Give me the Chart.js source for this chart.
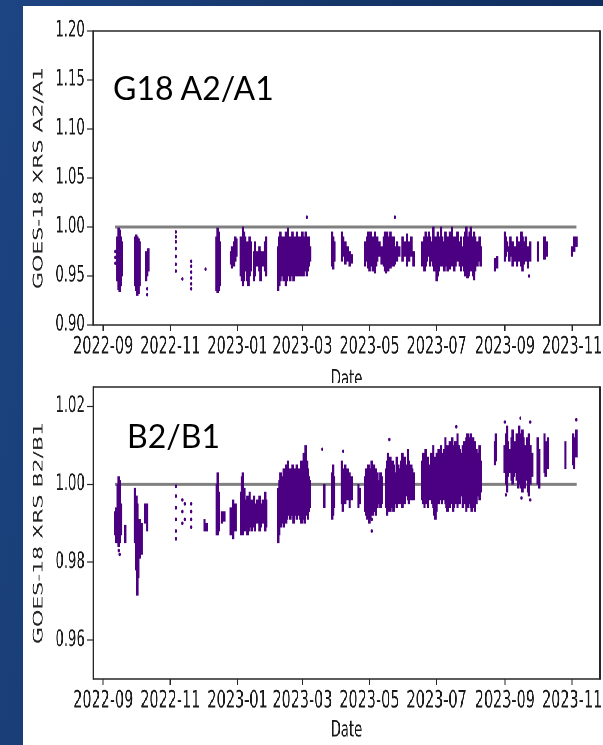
<!DOCTYPE html>
<html><head><meta charset="utf-8">
<script src="https://cdn.jsdelivr.net/npm/chart.js@4.4.0/dist/chart.umd.min.js"></script>
<style>
html,body{margin:0;padding:0;width:603px;height:745px;overflow:hidden;}
body{position:relative;background:linear-gradient(100deg,#1d4583 0%,#153669 45%,#0e2a5b 100%);}
#panel{position:absolute;left:23px;top:6px;width:580px;height:739px;background:#fff;}
.cb{position:absolute;left:23px;width:967px;transform:scaleX(0.59979);transform-origin:0 0;}
#box1{top:6px;height:387px;}
#box2{top:383px;height:362px;background:#fff;}
.note{position:absolute;font-family:Lato,'Open Sans',sans-serif;font-size:32px;line-height:32px;color:#000;white-space:nowrap;}
</style></head>
<body>
<div id="panel"></div>
<div class="cb" id="box1"><canvas id="c1"></canvas></div>
<div class="cb" id="box2"><canvas id="c2"></canvas></div>
<div class="note" style="left:113px;top:72px;">G18 A2/A1</div>
<div class="note" style="left:127px;top:420px;">B2/B1</div>
<script>
// ---------- data ----------
const xTickLabels = ['2022-09','2022-11','2023-01','2023-03','2023-05','2023-07','2023-09','2023-11'];
const aYTicks = [0.90,0.95,1.00,1.05,1.10,1.15,1.20];
const bYTicks = [0.96,0.98,1.00,1.02];
const refDates = ['2022-09-12','2023-11-05'];
const refValue = 1.0;

// G18 A2/A1 : dense daily strips (date, low, high)
const aStripDates = [
 '2022-09-14','2022-09-15','2022-09-16','2022-09-17','2022-09-18','2022-09-30','2022-10-01','2022-10-02','2022-10-03','2022-10-04','2022-10-10','2022-10-11','2022-10-12',
 '2022-12-13','2022-12-14','2022-12-15','2022-12-16','2022-12-26','2022-12-27','2022-12-29','2022-12-30','2022-12-31',
 '2023-01-04','2023-01-05','2023-01-06','2023-01-07','2023-01-08','2023-01-10','2023-01-11','2023-01-12','2023-01-13','2023-01-16','2023-01-17','2023-01-19','2023-01-21','2023-01-22','2023-01-24','2023-01-26','2023-01-27',
 '2023-02-07','2023-02-08','2023-02-09','2023-02-10','2023-02-11','2023-02-12','2023-02-13','2023-02-14','2023-02-15','2023-02-16','2023-02-17','2023-02-18','2023-02-19','2023-02-20','2023-02-21','2023-02-22','2023-02-23','2023-02-24','2023-02-25','2023-02-26','2023-02-27','2023-02-28',
 '2023-03-01','2023-03-02','2023-03-03','2023-03-04','2023-03-05','2023-03-06','2023-03-07','2023-03-08','2023-03-28','2023-03-29','2023-03-30','2023-04-06','2023-04-07','2023-04-09','2023-04-11','2023-04-13','2023-04-15',
 '2023-04-27','2023-04-29','2023-04-30','2023-05-01','2023-05-02','2023-05-03','2023-05-04','2023-05-05','2023-05-06','2023-05-07','2023-05-08','2023-05-10','2023-05-12','2023-05-14','2023-05-15','2023-05-16','2023-05-17','2023-05-18','2023-05-19','2023-05-20','2023-05-21','2023-05-22','2023-05-23','2023-05-24','2023-05-26','2023-05-28',
 '2023-05-31','2023-06-02','2023-06-04','2023-06-06','2023-06-08','2023-06-10',
 '2023-06-18','2023-06-20','2023-06-21','2023-06-22','2023-06-24','2023-06-25','2023-06-27','2023-06-28','2023-06-29','2023-07-01','2023-07-02','2023-07-03','2023-07-04','2023-07-05','2023-07-06','2023-07-08','2023-07-09','2023-07-10','2023-07-11','2023-07-12','2023-07-13',
 '2023-07-15','2023-07-16','2023-07-17','2023-07-18','2023-07-20','2023-07-22','2023-07-23','2023-07-24','2023-07-26','2023-07-27','2023-07-28','2023-07-29','2023-07-30','2023-07-31','2023-08-01','2023-08-02','2023-08-03','2023-08-04','2023-08-05','2023-08-07','2023-08-09','2023-08-10','2023-08-23','2023-08-25',
 '2023-09-01','2023-09-02','2023-09-03','2023-09-05','2023-09-06','2023-09-08','2023-09-10','2023-09-12','2023-09-14','2023-09-16','2023-09-17','2023-09-18','2023-09-20','2023-09-22','2023-09-24','2023-10-01','2023-10-07','2023-10-09','2023-11-01','2023-11-03','2023-11-05'
];
const aStripLow = [
 0.945,0.936,0.934,0.940,0.950,0.940,0.935,0.930,0.932,0.940,0.945,0.950,0.955,
 0.935,0.933,0.935,0.940,0.962,0.958,0.960,0.965,0.970,
 0.950,0.945,0.940,0.945,0.955,0.945,0.940,0.950,0.955,0.945,0.950,0.960,0.955,0.945,0.960,0.955,0.950,
 0.935,0.940,0.945,0.950,0.955,0.945,0.950,0.940,0.945,0.950,0.955,0.945,0.950,0.955,0.945,0.950,0.955,0.950,0.955,0.950,0.955,0.950,
 0.955,0.950,0.955,0.960,0.950,0.955,0.960,0.965,0.960,0.957,0.965,0.965,0.970,0.962,0.965,0.960,0.963,
 0.960,0.965,0.958,0.955,0.960,0.965,0.955,0.960,0.953,0.960,0.965,0.970,0.962,0.960,0.955,0.953,0.960,0.955,0.960,0.958,0.960,0.965,0.960,0.962,0.965,0.970,
 0.965,0.970,0.960,0.965,0.970,0.960,
 0.960,0.955,0.960,0.965,0.970,0.960,0.965,0.960,0.955,0.945,0.950,0.955,0.960,0.965,0.960,0.955,0.960,0.965,0.955,0.960,0.957,
 0.960,0.965,0.955,0.960,0.965,0.960,0.955,0.960,0.955,0.950,0.955,0.948,0.950,0.955,0.960,0.955,0.950,0.946,0.955,0.960,0.965,0.960,0.955,0.958,
 0.965,0.970,0.975,0.965,0.970,0.960,0.965,0.960,0.965,0.960,0.955,0.962,0.965,0.958,0.965,0.965,0.967,0.970,0.970,0.975,0.980
];
const aStripHigh = [
 0.990,0.999,0.997,0.990,0.985,0.990,0.992,0.990,0.988,0.985,0.975,0.972,0.978,
 0.990,0.999,0.995,0.985,0.975,0.980,0.985,0.990,0.988,
 0.990,0.985,1.000,0.995,0.990,0.985,0.980,0.990,0.985,0.975,0.985,0.975,0.980,0.975,0.975,0.985,0.990,
 0.980,0.990,0.995,0.990,0.985,0.990,0.985,0.995,0.990,0.999,0.990,0.985,0.990,0.995,0.990,0.985,0.990,0.995,0.985,0.990,0.980,0.990,
 0.995,0.990,0.985,0.995,0.990,0.985,0.990,0.980,0.995,0.990,0.985,0.995,0.990,0.985,0.980,0.975,0.972,
 0.985,0.990,0.995,0.990,0.995,0.990,0.985,0.990,0.995,0.985,0.990,0.985,0.980,0.990,0.995,0.990,0.995,0.990,0.985,0.995,0.990,0.985,0.990,0.980,0.985,0.980,
 0.990,0.985,0.993,0.985,0.990,0.975,
 0.985,0.990,0.995,0.990,0.995,0.990,0.985,1.000,0.990,0.990,0.995,0.985,0.990,1.000,0.990,0.985,0.995,0.990,0.985,0.990,0.995,
 1.000,0.990,0.985,0.990,0.995,0.985,0.990,0.980,0.990,0.995,1.000,0.990,0.985,0.995,1.000,0.990,0.985,0.995,0.990,0.985,0.990,0.980,0.968,0.970,
 0.995,0.990,0.985,0.980,0.990,0.985,0.980,0.990,0.985,0.995,0.990,0.985,0.990,0.980,0.985,0.985,0.990,0.985,0.980,0.990,0.990
];
// G18 A2/A1 : isolated points
const aDotDates = ['2022-09-12','2022-09-12','2022-09-12','2022-10-11','2022-10-11',
 '2022-11-06','2022-11-06','2022-11-06','2022-11-06','2022-11-06','2022-11-06','2022-11-06',
 '2022-11-12','2022-11-20','2022-11-20','2022-11-20','2022-11-20','2022-11-20','2022-11-20',
 '2022-12-03','2023-03-05','2023-05-24','2023-09-23'];
const aDotVals = [0.975,0.969,0.963,0.931,0.937,
 0.995,0.990,0.985,0.978,0.970,0.962,0.955,
 0.947,0.965,0.960,0.954,0.948,0.942,0.937,
 0.957,1.010,1.010,0.950];

// B2/B1 : dense daily strips
const bStripDates = [
 '2022-09-12','2022-09-13','2022-09-14','2022-09-15','2022-09-16','2022-09-17','2022-09-21','2022-09-30','2022-10-01','2022-10-02','2022-10-03','2022-10-04','2022-10-05','2022-10-06','2022-10-09','2022-10-11',
 '2022-12-02','2022-12-04','2022-12-13','2022-12-14','2022-12-15','2022-12-18','2022-12-20','2022-12-26','2022-12-28','2022-12-30',
 '2023-01-04','2023-01-05','2023-01-06','2023-01-07','2023-01-08','2023-01-10','2023-01-11','2023-01-12','2023-01-14','2023-01-16','2023-01-17','2023-01-19','2023-01-21','2023-01-22','2023-01-24','2023-01-26','2023-01-27',
 '2023-02-07','2023-02-08','2023-02-09','2023-02-10','2023-02-11','2023-02-12','2023-02-13','2023-02-14','2023-02-15','2023-02-16','2023-02-17','2023-02-18','2023-02-19','2023-02-20','2023-02-21','2023-02-22','2023-02-23','2023-02-24','2023-02-25','2023-02-26','2023-02-27','2023-02-28',
 '2023-03-01','2023-03-02','2023-03-03','2023-03-04','2023-03-05','2023-03-06','2023-03-07','2023-03-08','2023-03-21','2023-03-28','2023-03-29','2023-03-30','2023-04-06','2023-04-07','2023-04-09','2023-04-11','2023-04-13','2023-04-15','2023-04-21','2023-04-22',
 '2023-04-27','2023-04-28','2023-04-29','2023-04-30','2023-05-01','2023-05-02','2023-05-03','2023-05-04','2023-05-05','2023-05-06','2023-05-07','2023-05-08','2023-05-09','2023-05-11','2023-05-12',
 '2023-05-16','2023-05-17','2023-05-18','2023-05-19','2023-05-20','2023-05-21','2023-05-22','2023-05-23','2023-05-24','2023-05-26','2023-05-27','2023-05-28','2023-05-30','2023-05-31','2023-06-01','2023-06-02','2023-06-04','2023-06-05','2023-06-06','2023-06-08','2023-06-09','2023-06-10',
 '2023-06-18','2023-06-19','2023-06-20','2023-06-21','2023-06-22','2023-06-23','2023-06-25','2023-06-26','2023-06-27','2023-06-28','2023-06-29','2023-06-30','2023-07-01','2023-07-02','2023-07-03','2023-07-04','2023-07-05','2023-07-06','2023-07-07','2023-07-08','2023-07-09',
 '2023-07-10','2023-07-11','2023-07-12','2023-07-13','2023-07-14','2023-07-15','2023-07-16','2023-07-17','2023-07-18','2023-07-19','2023-07-20','2023-07-21','2023-07-22','2023-07-23','2023-07-25','2023-07-26','2023-07-27','2023-07-28','2023-07-29','2023-07-30','2023-07-31','2023-08-01','2023-08-02','2023-08-03','2023-08-04','2023-08-05','2023-08-06','2023-08-08','2023-08-09','2023-08-10',
 '2023-08-23','2023-08-24','2023-09-01','2023-09-02','2023-09-03','2023-09-04','2023-09-05','2023-09-07','2023-09-08','2023-09-09','2023-09-10','2023-09-12','2023-09-13','2023-09-14','2023-09-15','2023-09-16','2023-09-17','2023-09-18','2023-09-19','2023-09-21','2023-09-22','2023-09-23','2023-09-24','2023-09-26','2023-10-01','2023-10-02','2023-10-07','2023-10-08','2023-10-10','2023-10-26','2023-11-02','2023-11-03','2023-11-05'
];
const bStripLow = [
 0.987,0.985,0.985,0.984,0.985,0.987,0.985,0.985,0.978,0.9715,0.976,0.981,0.983,0.982,0.990,0.988,
 0.988,0.988,0.987,0.987,0.988,0.990,0.9905,0.987,0.986,0.988,
 0.987,0.988,0.987,0.989,0.988,0.987,0.988,0.989,0.988,0.989,0.988,0.990,0.988,0.989,0.990,0.988,0.989,
 0.985,0.987,0.989,0.990,0.991,0.989,0.992,0.990,0.991,0.993,0.992,0.991,0.993,0.992,0.990,0.992,0.993,0.991,0.992,0.993,0.991,0.990,
 0.992,0.991,0.990,0.993,0.992,0.991,0.993,0.994,0.994,0.991,0.992,0.994,0.995,0.993,0.995,0.996,0.994,0.996,0.994,0.995,
 0.993,0.992,0.991,0.992,0.990,0.991,0.993,0.992,0.994,0.993,0.992,0.994,0.995,0.994,0.995,
 0.994,0.992,0.993,0.995,0.993,0.994,0.996,0.993,0.995,0.994,0.996,0.995,0.995,0.994,0.996,0.995,0.997,0.996,0.995,0.996,0.997,0.996,
 0.996,0.995,0.994,0.995,0.996,0.994,0.996,0.997,0.995,0.994,0.992,0.991,0.993,0.996,0.995,0.997,0.996,0.995,0.997,0.996,0.995,
 0.994,0.993,0.995,0.994,0.996,0.995,0.993,0.994,0.996,0.995,0.994,0.996,0.995,0.997,0.994,0.996,0.995,0.993,0.994,0.996,0.995,0.994,0.993,0.995,0.994,0.993,0.995,0.997,0.996,0.998,
 1.005,1.006,1.003,1.000,0.998,1.002,1.003,1.001,1.000,1.002,1.003,1.001,0.999,1.000,1.002,0.999,0.998,1.000,0.999,1.001,0.998,0.997,1.000,1.002,1.000,0.999,1.003,1.002,1.004,1.004,1.005,1.004,1.007
];
const bStripHigh = [
 0.993,0.994,1.000,1.002,1.001,0.995,0.9895,0.999,0.997,0.995,0.990,0.991,0.988,0.990,0.995,0.995,
 0.991,0.990,1.000,1.003,0.998,0.993,0.993,0.994,0.996,0.995,
 0.998,1.002,1.003,0.999,0.996,0.997,0.995,0.998,0.996,0.997,0.995,0.996,0.997,0.995,0.996,0.998,0.996,
 0.999,1.001,1.003,1.000,1.002,1.004,1.001,1.005,1.003,1.006,1.002,1.004,1.003,1.005,1.002,1.004,1.003,1.005,1.002,1.004,1.003,1.006,
 1.004,1.008,1.005,1.010,1.006,1.004,1.002,1.001,1.000,1.003,1.005,1.002,1.006,1.004,1.005,1.004,1.003,1.002,1.000,0.999,
 1.002,1.004,1.003,1.005,1.002,1.004,1.006,1.003,1.005,1.002,1.004,1.003,1.001,1.003,1.002,
 1.004,1.006,1.008,1.005,1.007,1.004,1.006,1.005,1.003,1.007,1.005,1.004,1.006,1.008,1.005,1.007,1.005,1.009,1.006,1.005,1.004,1.003,
 1.006,1.008,1.005,1.009,1.006,1.007,1.005,1.008,1.006,1.010,1.007,1.005,1.008,1.006,1.009,1.007,1.010,1.008,1.006,1.009,1.012,
 1.008,1.010,1.009,1.011,1.008,1.012,1.010,1.009,1.011,1.008,1.013,1.010,1.009,1.008,1.010,1.011,1.009,1.012,1.013,1.010,1.012,1.013,1.011,1.012,1.010,1.011,1.009,1.008,1.010,1.006,
 1.011,1.013,1.010,1.013,1.015,1.011,1.009,1.012,1.014,1.010,1.011,1.013,1.012,1.015,1.011,1.013,1.014,1.012,1.010,1.012,1.011,1.013,1.010,1.008,1.012,1.009,1.013,1.011,1.012,1.011,1.013,1.012,1.014
];
// B2/B1 : isolated points
const bDotDates = ['2022-09-15','2022-09-16',
 '2022-11-06','2022-11-06','2022-11-06','2022-11-06','2022-11-06','2022-11-06',
 '2022-11-12','2022-11-12','2022-11-12','2022-11-14','2022-11-14',
 '2022-11-20','2022-11-20','2022-11-20','2022-11-20',
 '2023-03-19','2023-04-07','2023-05-03','2023-05-03','2023-05-19','2023-07-19',
 '2023-09-01','2023-09-02','2023-09-15','2023-09-16','2023-09-24','2023-09-24','2023-11-05'];
const bDotVals = [0.983,0.982,
 0.9995,0.997,0.994,0.991,0.988,0.986,
 0.996,0.993,0.990,0.995,0.991,
 0.995,0.993,0.991,0.989,
 1.009,1.0085,0.988,0.991,1.0115,1.0148,
 1.016,0.9973,1.017,0.9965,1.016,0.996,1.0166];

// ---------- drawing ----------
const PURPLE = '#4B0082';
const DAY0 = Date.UTC(2022,8,1);
function dayOf(s){const p=s.split('-').map(Number);return (Date.UTC(p[0],p[1]-1,p[2]||1)-DAY0)/864e5;}
const xMin = dayOf('2022-08-23') - 0.1;
const xMax = dayOf('2023-11-26') + 0.4;
const yTickFont = {family:'DejaVu Sans', size:22};
const xTickFont = {family:'DejaVu Sans', size:24};

const framePlugin = {id:'frame', afterDatasetsDraw(chart){
  const {ctx, chartArea:a} = chart;
  ctx.save(); ctx.strokeStyle='#262626';
  ctx.lineWidth=1.5; ctx.beginPath();
  ctx.moveTo(a.left,a.top); ctx.lineTo(a.right,a.top);
  ctx.moveTo(a.left,a.bottom); ctx.lineTo(a.right,a.bottom); ctx.stroke();
  ctx.lineWidth=2.6; ctx.beginPath();
  ctx.moveTo(a.left,a.top-0.75); ctx.lineTo(a.left,a.bottom+0.75);
  ctx.moveTo(a.right,a.top-0.75); ctx.lineTo(a.right,a.bottom+0.75); ctx.stroke();
  ctx.restore();
}};

function build(id, o){
  const strips = o.sd.map((d,i)=>({x:dayOf(d), y:[o.lo[i], o.hi[i]]}));
  const dots = o.dd.map((d,i)=>({x:dayOf(d), y:o.dv[i]}));
  const ref = refDates.map(d=>({x:dayOf(d), y:refValue}));
  return new Chart(document.getElementById(id), {
    type:'bar',
    data:{datasets:[
      {type:'bar', data:strips, backgroundColor:PURPLE, barThickness:3.4, grouped:false, borderWidth:0, order:0},
      {type:'scatter', data:dots, backgroundColor:PURPLE, borderColor:PURPLE, borderWidth:0, pointRadius:1.8, order:1},
      {type:'line', data:ref, borderColor:'#808080', borderWidth:3, pointRadius:0, fill:false, order:5}
    ]},
    options:{
      responsive:true, maintainAspectRatio:false, animation:false, devicePixelRatio:2,
      layout:{padding:{top:o.padTop, left:0, right:5, bottom:0}},
      plugins:{legend:{display:false}, tooltip:{enabled:false}},
      scales:{
        x:{type:'linear', min:xMin, max:xMax, offset:false,
          afterBuildTicks:s=>{s.ticks = xTickLabels.map(l=>({value:dayOf(l+'-01')}));},
          ticks:{callback:(v,i)=>xTickLabels[i], font:xTickFont, color:'#1a1a1a', maxRotation:0, autoSkip:false, padding:2},
          grid:{display:true, offset:false, drawOnChartArea:false, drawTicks:true, tickLength:6, tickWidth:2, tickColor:'#262626'},
          border:{display:false},
          title:{display:true, text:'Date', font:yTickFont, color:'#1a1a1a', padding:{top:0,bottom:o.titlePadB}},
          afterFit:s=>{s.height=o.xH; s.paddingLeft=0; s.paddingRight=0;}
        },
        y:{type:'linear', min:o.yMin, max:o.yMax, offset:false,
          afterBuildTicks:s=>{s.ticks = o.yTicks.map(v=>({value:v}));},
          ticks:{callback:v=>Number(v).toFixed(2), font:yTickFont, color:'#1a1a1a', padding:4, autoSkip:false},
          grid:{display:true, offset:false, drawOnChartArea:false, drawTicks:true, tickLength:10, tickWidth:1.2, tickColor:'#262626'},
          border:{display:false},
          title:{display:true, text:o.yTitle, font:yTickFont, color:'#262626', padding:{top:13.5,bottom:0}},
          afterFit:s=>{s.width=117; s.paddingTop=0; s.paddingBottom=0;}
        }
      }
    },
    plugins:[framePlugin]
  });
}

build('c1', {sd:aStripDates, lo:aStripLow, hi:aStripHigh, dd:aDotDates, dv:aDotVals,
  yMin:0.9, yMax:1.2, yTicks:aYTicks, yTitle:'GOES-18 XRS A2/A1', padTop:25, xH:68, titlePadB:0});
build('c2', {sd:bStripDates, lo:bStripLow, hi:bStripHigh, dd:bDotDates, dv:bDotVals,
  yMin:0.95, yMax:1.025, yTicks:bYTicks, yTitle:'GOES-18 XRS B2/B1', padTop:1, xH:66, titlePadB:1});
</script>
</body></html>
